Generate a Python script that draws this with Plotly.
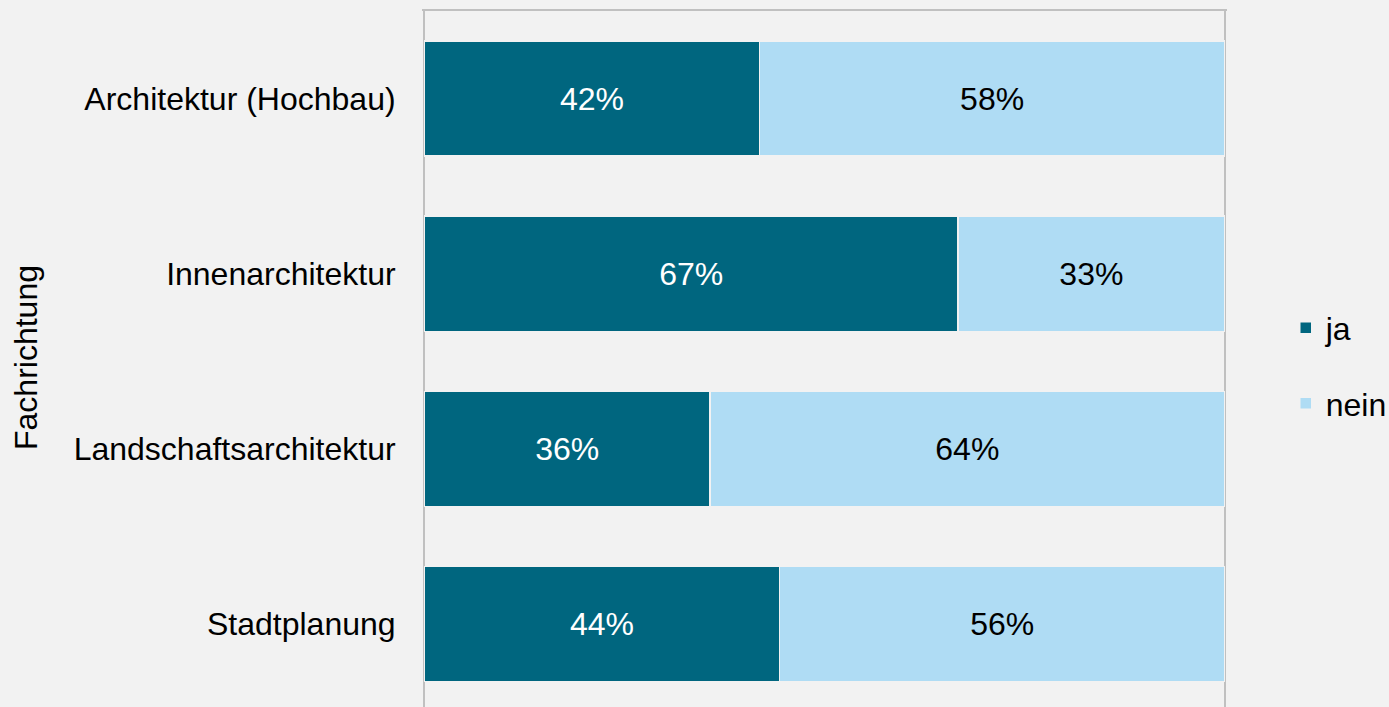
import plotly.graph_objects as go

categories = ["Architektur (Hochbau)", "Innenarchitektur", "Landschaftsarchitektur", "Stadtplanung"]
ja_values = [41.9, 66.7, 35.7, 44.4]
nein_values = [58.1, 33.3, 64.3, 55.6]
series_names = ["ja", "nein"]
y_title = "Fachrichtung"

COL_JA = "#00667f"
COL_NEIN = "#afdcf4"
FONT = "Liberation Sans, Arial, sans-serif"
FS = 32

fig = go.Figure()
fig.add_trace(go.Bar(
    y=categories, x=ja_values, name=series_names[0], orientation="h",
    marker=dict(color=COL_JA, line=dict(color="#f2f2f2", width=1.5)),
    text=[f"{v:.0f}%" for v in ja_values], textposition="inside",
    insidetextanchor="middle", textfont=dict(color="white", size=FS, family=FONT),
    width=0.657, legendgroup="ja", hoverinfo="skip",
))
fig.add_trace(go.Bar(
    y=categories, x=nein_values, name=series_names[1], orientation="h",
    marker=dict(color=COL_NEIN, line=dict(color="#f2f2f2", width=1.5)),
    text=[f"{v:.0f}%" for v in nein_values], textposition="inside",
    insidetextanchor="middle", textfont=dict(color="black", size=FS, family=FONT),
    width=0.657, legendgroup="nein", hoverinfo="skip",
))

fig.update_layout(
    width=1389, height=707,
    barmode="stack",
    paper_bgcolor="#f2f2f2", plot_bgcolor="#f2f2f2",
    margin=dict(l=422, r=162, t=11, b=0, autoexpand=False),
    font=dict(family=FONT, size=FS, color="black"),
    showlegend=True,
    legend=dict(x=1.073, xanchor="left", y=0.49, yanchor="middle",
                font=dict(size=FS, family=FONT), tracegroupgap=31,
                traceorder="grouped", bgcolor="rgba(0,0,0,0)"),
    xaxis=dict(range=[-0.3, 100.3], tickvals=[0, 100], showticklabels=False,
               showgrid=True, gridcolor="#c0c0c0", gridwidth=2, zeroline=False,
               showline=True, linecolor="#c0c0c0", linewidth=2, side="top",
               fixedrange=True),
    yaxis=dict(categoryorder="array", categoryarray=categories[::-1],
               range=[-0.473, 3.5], showgrid=False, zeroline=False,
               ticks="outside", ticklen=19, tickcolor="rgba(0,0,0,0)",
               tickfont=dict(size=FS, family=FONT, color="black"),
               fixedrange=True),
    annotations=[dict(text=y_title, textangle=-90, xref="paper", yref="paper",
                      x=(26 - 422) / 805, y=(707 - 358) / 696,
                      xanchor="center", yanchor="middle", showarrow=False,
                      font=dict(size=FS, family=FONT, color="black"))],
)

fig.write_html("out.html", config={"displayModeBar": False},
               post_script="document.body.style.margin='0';document.body.style.overflow='hidden';document.body.style.background='#f2f2f2';")
